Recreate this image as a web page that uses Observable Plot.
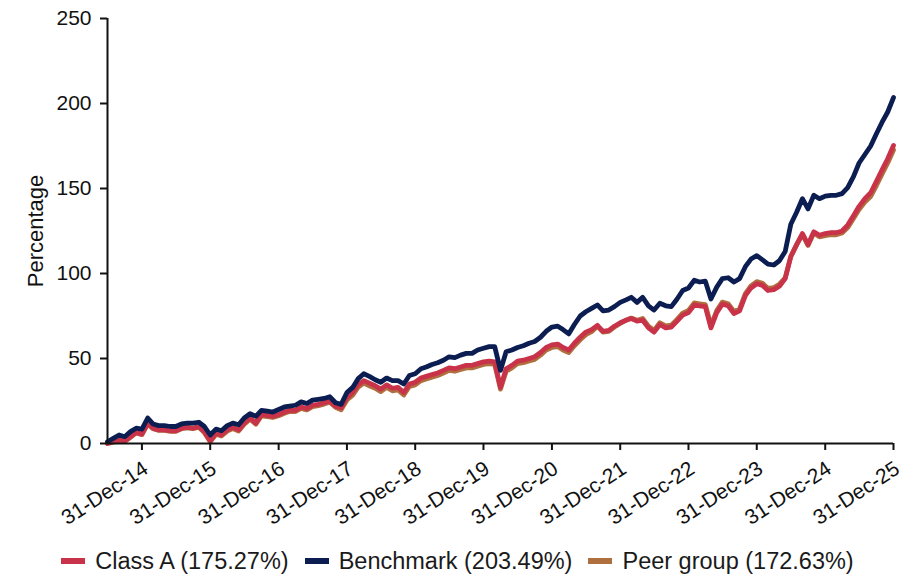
<!DOCTYPE html>
<html>
<head>
<meta charset="utf-8">
<script src="https://cdn.jsdelivr.net/npm/d3@7"></script>
<script src="https://cdn.jsdelivr.net/npm/@observablehq/plot@0.6"></script>
<style>
  html, body { margin: 0; padding: 0; background: #fff; }
  body { width: 915px; height: 574px; overflow: hidden; font-family: "Liberation Sans", Arial, sans-serif; }
  #legend { position: absolute; top: 546px; left: 0; width: 915px; display: flex; justify-content: center; align-items: center; gap: 16px; font-size: 23.5px; color: #1a1a1a; height: 30px; }
  .item { display: flex; align-items: center; gap: 10px; }
  .sw { width: 24px; height: 6px; display: inline-block; }
</style>
</head>
<body>
<div id="chart"></div>
<div id="legend"></div>
<script>
// Series names and colours
const seriesNames = ["Class A (175.27%)", "Benchmark (203.49%)", "Peer group (172.63%)"];
const seriesColors = ["#C8334A", "#0B1D51", "#B06F3E"];

// Monthly month-end observations from 30-Jun-2014 to 31-Dec-2025 (139 points)
const classA = [
  0, 1, 2, 1.5, 4, 6.5, 5.5, 12, 9, 8, 8, 7.5,
  7.5, 9, 9.5, 9, 10, 7, 1.5, 6, 5, 8, 9.5, 8,
  12, 15, 12, 17, 16.5, 16, 17, 18.5, 19.5, 19.5, 21.5, 20.5,
  22.5, 23, 24, 25, 22, 21, 27, 30, 34.5, 37, 35.5, 34,
  32, 34.5, 32.5, 33, 30, 35, 36, 38.5, 39.5, 40.5, 41.5, 43,
  44.5, 44, 45, 46, 46, 47, 48, 48.5, 48, 33, 44, 46,
  48.5, 49, 50, 51, 53.5, 56.5, 58, 58.5, 56.5, 55, 59, 62.5,
  65.5, 67, 69.5, 66, 66.5, 69, 71, 72.5, 73.5, 72, 72.5, 68,
  65.5, 70, 68, 68.5, 72, 75.5, 77, 81.5, 81, 80.5, 68, 77,
  82, 81, 76.5, 78, 87, 91.5, 94, 93, 90, 90.5, 92.5, 97,
  110, 117, 123.5, 117, 124.5, 122.5, 123.5, 124, 124, 125, 128.5, 134,
  139.5, 144, 147.5, 154, 161, 167.5, 175.27
];
const benchmark = [
  1, 3, 5, 4, 7, 9, 8.5, 15, 11.5, 10.5, 10.5, 10,
  10, 11.5, 12, 12, 12.5, 10, 5, 8.5, 7.5, 10.5, 12, 11,
  15, 17.5, 16, 19.5, 19, 18.5, 20, 21.5, 22, 22.5, 24.5, 23.5,
  25.5, 26, 26.5, 27.5, 24, 23, 30, 33, 38, 41, 39.5, 37.5,
  36, 38.5, 37, 37, 35, 40, 41, 44, 45, 46.5, 47.5, 49,
  51, 50.5, 52, 53, 53, 55, 56, 57, 57, 43, 54, 55,
  56.5, 57.5, 59, 60, 62.5, 66, 68.5, 69, 67, 64.5, 70, 75,
  77.5, 79.5, 81.5, 78, 78.5, 80.5, 83, 84.5, 86, 83, 86, 81,
  78.5, 82.5, 81, 80.5, 85, 90, 91.5, 96, 95, 95.5, 85, 92,
  97, 97.5, 95, 97, 104, 108.5, 110.5, 108, 105.5, 105, 107.5, 113,
  129, 136, 144, 138, 146, 144, 145.5, 146, 146, 147, 150.5, 157,
  165, 170, 175, 182, 189, 195, 203.49
];
const peerGroup = [
  0, 0.8, 1.7, 1.2, 3.7, 6.2, 5.2, 11.6, 8.7, 7.7, 7.7, 7.2,
  7.2, 8.7, 9.2, 8.7, 9.6, 6.4, 1.0, 5.4, 4.4, 7.3, 8.8, 7.3,
  11.3, 14.3, 11.4, 16.3, 15.8, 15.3, 16.3, 17.8, 18.8, 18.8, 20.7, 19.8,
  21.7, 22.3, 23.2, 24.3, 21.3, 19.8, 25.6, 28.5, 33, 35.5, 34, 32.5,
  30.5, 33, 31, 31.5, 28.5, 33.5, 34.5, 37, 38, 39, 40, 41.5,
  43, 42.5, 43.5, 44.5, 44.5, 45.5, 46.5, 47, 46.5, 32, 42.5, 44.5,
  47, 47.5, 48.5, 49.5, 52, 55, 56.5, 57, 55, 53.5, 57.5, 61,
  64, 65.8, 69, 65.5, 66, 68.5, 70.6, 72.5, 73.8, 72.5, 73.5, 69,
  66.5, 71, 69.2, 69.6, 73, 76.7, 78.2, 82.7, 82.2, 81.7, 69.3, 78.2,
  83.2, 82.2, 77.7, 79.2, 88.2, 92.7, 95.2, 94.2, 91.2, 91.7, 93.7, 97.5,
  110, 116.8, 123, 116.5, 123.8, 121.6, 122.3, 122.8, 122.8, 123.8, 127, 132.4,
  137.7, 142, 145.3, 151.6, 158.5, 165, 172.63
];
const yTicks = [0, 50, 100, 150, 200, 250];
const xTickYears = [2014, 2015, 2016, 2017, 2018, 2019, 2020, 2021, 2022, 2023, 2024, 2025];

// month-end dates
const firstMonth = new Date(Date.UTC(2014, 6, 1));
const dates = classA.map((_, i) => d3.utcDay.offset(d3.utcMonth.offset(firstMonth, i), -1));
const xTicks = xTickYears.map(y => new Date(Date.UTC(y, 11, 31)));
const start = dates[0], end = dates[dates.length - 1];

const mk = (vals, s) => vals.map((v, i) => ({date: dates[i], value: v, series: s}));
const dA = mk(classA, seriesNames[0]);
const dB = mk(benchmark, seriesNames[1]);
const dP = mk(peerGroup, seriesNames[2]);

const fmt = d3.utcFormat("%d-%b-%y");
const chart = Plot.plot({
  width: 915,
  height: 540,
  marginLeft: 107,
  marginRight: 22,
  marginTop: 18,
  marginBottom: 97,
  style: {fontFamily: "'Liberation Sans', Arial, sans-serif", fontSize: "21px", color: "#111", background: "#fff", overflow: "visible"},
  x: {type: "utc", domain: [start, end]},
  y: {domain: [0, 250]},
  marks: [
    Plot.line(dP, {x: "date", y: "value", stroke: seriesColors[2], strokeWidth: 4.8, strokeLinejoin: "round"}),
    Plot.line(dA, {x: "date", y: "value", stroke: seriesColors[0], strokeWidth: 4.8, strokeLinejoin: "round"}),
    Plot.line(dB, {x: "date", y: "value", stroke: seriesColors[1], strokeWidth: 4.8, strokeLinejoin: "round"}),
    Plot.ruleY([0], {stroke: "#111", strokeWidth: 2}),
    Plot.ruleX([start], {stroke: "#111", strokeWidth: 2}),
    Plot.axisY({ticks: yTicks, tickSize: 7, tickPadding: 9, strokeWidth: 2, fontSize: 21, label: null}),
    Plot.axisX({ticks: xTicks, tickSize: 7, strokeWidth: 2, tickFormat: () => "", label: null}),
    Plot.axisX({ticks: xTicks, tickSize: 0, tickPadding: 23, fontSize: 21, tickRotate: -33, tickFormat: fmt, label: null, dx: 4}),
    Plot.text(["Percentage"], {frameAnchor: "left", textAnchor: "middle", rotate: -90, dx: -72, fontSize: 22, fill: "#111"})
  ]
});
document.getElementById("chart").appendChild(chart);

const legend = document.getElementById("legend");
seriesNames.forEach((n, i) => {
  const it = document.createElement("div");
  it.className = "item";
  it.innerHTML = `<span class="sw" style="background:${seriesColors[i]}"></span><span>${n}</span>`;
  legend.appendChild(it);
});
</script>
</body>
</html>
